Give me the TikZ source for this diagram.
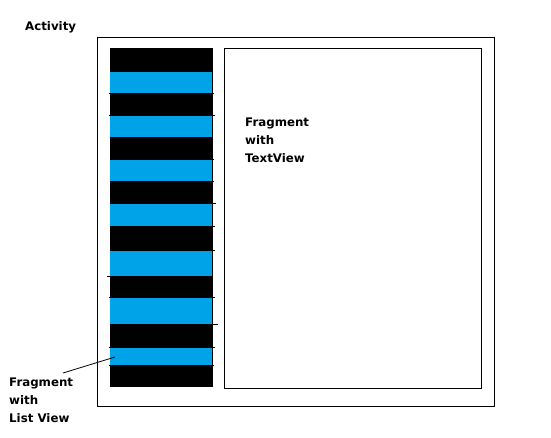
\documentclass[tikz,border=0pt]{standalone}
\usepackage{fontspec}
\setmainfont{DejaVu Sans}
\definecolor{paintblue}{HTML}{00A2E8}
\begin{document}
\begin{tikzpicture}[x=1pt,y=-1pt,
  frame/.style={draw=black,line width=1pt},
  lbl/.style={font=\bfseries\fontsize{11.8}{18.2}\selectfont,align=left,anchor=north west,inner sep=0pt},
  tick/.style={draw=black,line width=1pt}]
\useasboundingbox (0,0) rectangle (551,437);
\fill[white] (0,0) rectangle (551,437);
% activity and fragment frames
\draw[frame] (97.5,37.5) rectangle (494.5,406.5);
\draw[frame] (224.5,48.5) rectangle (481.5,388.5);
% list column
\fill[black] (110,48) rectangle (213,387);
\foreach \a/\b in {72/93,115/137,160/181,204/226,251/276,297/324,348/365}
  \fill[paintblue] (110,\a) rectangle (212,\b);
% small ticks at stripe edges
\foreach \y/\l/\r in {93/109/214,115/109/215,297/109/215,347/109/215,365/109/214}
  \draw[tick] (\l,\y+0.5) -- (\r,\y+0.5);
\foreach \y/\r in {159/214,181/214,203/216,226/215,250/215,324/218}
  \draw[tick] (212,\y+0.5) -- (\r,\y+0.5);
\draw[tick] (107,276.5) -- (110,276.5);
% labels
\node[lbl] (act) at (25,21) {Activity};
\node[lbl] (tv) at (245,117.5) {Fragment\\with\\TextView};
\node[lbl] (lv) at (9,377.5) {Fragment\\with\\List View};
\coordinate (lvs) at (63,373);
\coordinate (lvt) at (115,357);
\draw[line width=0.8pt] (lvs) -- (lvt);
\end{tikzpicture}
\end{document}
